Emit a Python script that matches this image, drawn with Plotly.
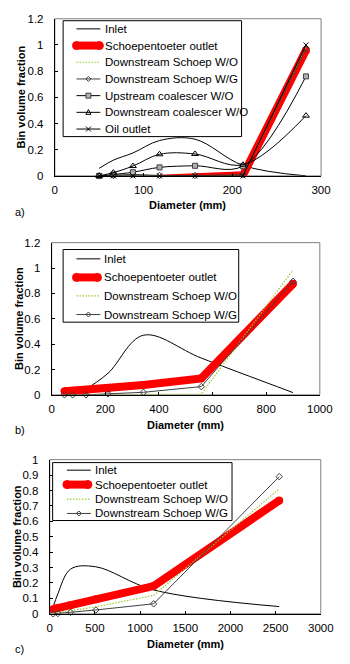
import plotly.graph_objects as go

W, H = 350, 664

# ---------------- data ----------------
# panel a)
a_x = [50, 66, 88, 118, 158, 212, 283]
a_inlet = [0.058, 0.12, 0.175, 0.27, 0.28, 0.08, 0.0]
a_schoep_out = [None, None, None, -0.022, -0.014, 0.005, 0.96]
a_down_wo = [0, 0, 0, 0, 0, 0.003, 0.98]
a_down_wg = [0, 0.003, 0.012, 0.003, 0.003, 0.01, 0.97]
a_up_coal = [0, 0.01, 0.028, 0.065, 0.077, 0.074, 0.76]
a_down_coal = [0, 0.025, 0.075, 0.165, 0.167, 0.085, 0.46]
a_oil = [0, 0, 0, 0, 0, 0, 1.0]

# panel b)
b_x = [48, 78, 128, 210, 342, 558, 900]
b_inlet = [0.01, 0.02, 0.05, 0.17, 0.47, 0.29, 0.018]
b_schoep_out = [0.028, 0.032, 0.038, 0.05, 0.078, 0.13, 0.875]
b_down_wo = [0, 0, 0, 0, 0, 0.005, 0.985]
b_down_wg = [0, 0, 0, 0.008, 0.02, 0.065, 0.895]

# panel c)
c_x = [38, 90, 230, 510, 1150, 2540]
c_inlet = [0.045, 0.13, 0.29, 0.305, 0.155, 0.047]
c_schoep_out = [0.03, 0.037, 0.056, 0.094, 0.18, 0.735]
c_down_wo = [0.005, 0.008, 0.02, 0.045, 0.12, 0.81]
c_down_wg = [0.0, 0.002, 0.01, 0.025, 0.065, 0.89]

# ---------------- styles ----------------
BLACK = '#000000'
GRAY = '#404040'
RED = '#ff0000'
GREEN = '#99c933'
FONT = 'Liberation Sans, Arial, sans-serif'
DOT = '1.5px,1.5px'

STY = {
    'Inlet': dict(mode='lines', line=dict(color=BLACK, width=1, shape='spline')),
    'Schoepentoeter outlet': dict(mode='lines+markers', line=dict(color=RED, width=8),
                                  marker=dict(symbol='circle', size=8, color=RED), cliponaxis=True),
    'Downstream Schoep W/O': dict(mode='lines', line=dict(color=GREEN, width=1.2, dash=DOT)),
    'Downstream Schoep W/G': dict(mode='lines+markers', line=dict(color=GRAY, width=1),
                                  marker=dict(symbol='diamond-open', size=5, color=GRAY, line=dict(width=1))),
    'Upstream coalescer W/O': dict(mode='lines+markers', line=dict(color=BLACK, width=1, shape='spline'),
                                   marker=dict(symbol='square', size=5, color='#b0b0b0',
                                               line=dict(color=GRAY, width=1))),
    'Downstream coalescer W/O': dict(mode='lines+markers', line=dict(color=BLACK, width=1, shape='spline'),
                                     marker=dict(symbol='triangle-up-open', size=6, color=BLACK, line=dict(width=1))),
    'Oil outlet': dict(mode='lines+markers', line=dict(color=BLACK, width=1),
                       marker=dict(symbol='x-thin-open', size=5, color=BLACK, line=dict(width=1, color=BLACK))),
}
LEG_MARK = {
    'Downstream Schoep W/G': ('diamond', GRAY, 'rgba(0,0,0,0)'),
    'Upstream coalescer W/O': ('square', GRAY, '#b0b0b0'),
    'Downstream coalescer W/O': ('triangle', BLACK, 'rgba(0,0,0,0)'),
    'Oil outlet': ('x', BLACK, 'rgba(0,0,0,0)'),
}


def px(x):
    return x / W


def py(y):
    return 1 - y / H


panels = [
    dict(label='a)', x=a_x,
         series=[('Inlet', a_inlet), ('Schoepentoeter outlet', a_schoep_out),
                 ('Downstream Schoep W/O', a_down_wo), ('Downstream Schoep W/G', a_down_wg),
                 ('Upstream coalescer W/O', a_up_coal), ('Downstream coalescer W/O', a_down_coal),
                 ('Oil outlet', a_oil)],
         xpx=(54.3, 333.3), ypx=(13, 173), xr=[0, 300], xdt=100, yr=[0, 1.2], ydt=0.2,
         ytitle_x=19, xtitle_y=203, lab_y=210,
         leg=dict(box=(63, 15, 250, 133), y0=23.3, dy=17.0, sx=(77, 102), rx=(73, 105), tx=105)),
    dict(label='b)', x=b_x,
         series=[('Inlet', b_inlet), ('Schoepentoeter outlet', b_schoep_out),
                 ('Downstream Schoep W/O', b_down_wo), ('Downstream Schoep W/G', b_down_wg)],
         xpx=(51, 332), ypx=(241, 396), xr=[0, 1000], xdt=200, yr=[0, 1.2], ydt=0.2,
         ytitle_x=17, xtitle_y=427, lab_y=432,
         leg=dict(box=(63, 248, 247, 322), y0=257.5, dy=18.9, sx=(77, 102), rx=(73, 103), tx=104)),
    dict(label='c)', x=c_x,
         series=[('Inlet', c_inlet), ('Schoepentoeter outlet', c_schoep_out),
                 ('Downstream Schoep W/O', c_down_wo), ('Downstream Schoep W/G', c_down_wg)],
         xpx=(49, 333), ypx=(462, 619), xr=[0, 3000], xdt=500, yr=[0, 1], ydt=0.1,
         ytitle_x=14, xtitle_y=650, lab_y=655,
         leg=dict(box=(52, 465, 240, 524), y0=472.7, dy=14.7, sx=(67, 92), rx=(63, 93), tx=94)),
]

fig = go.Figure()
shapes = []
annotations = []
layout_axes = {}


def marker_shape(kind, cx, cy, s, color, fill):
    d = dict(xref='paper', yref='paper', xsizemode='pixel', ysizemode='pixel',
             xanchor=px(cx), yanchor=py(cy), line=dict(color=color, width=1),
             fillcolor=fill, layer='above')
    if kind == 'square':
        d.update(type='rect', x0=-s, x1=s, y0=-s, y1=s)
    elif kind == 'circle':
        d.update(type='circle', x0=-s, x1=s, y0=-s, y1=s)
    elif kind == 'diamond':
        d.update(type='path', path=f'M0,{s} L{s},0 L0,{-s} L{-s},0 Z')
    elif kind == 'triangle':
        d.update(type='path', path=f'M{-s},{-s*0.8} L{s},{-s*0.8} L0,{s*1.1} Z')
    elif kind == 'x':
        d.update(type='path', path=f'M{-s},{-s} L{s},{s} M{-s},{s} L{s},{-s}')
    return d


for i, p in enumerate(panels, start=1):
    xa = 'x' if i == 1 else f'x{i}'
    ya = 'y' if i == 1 else f'y{i}'
    for name, vals in p['series']:
        st = dict(STY[name])
        clip = st.pop('cliponaxis', False)
        fig.add_trace(go.Scatter(x=p['x'], y=vals, name=name, showlegend=False,
                                 xaxis=xa, yaxis=ya, cliponaxis=clip, connectgaps=False, **st))
    x0, x1 = p['xpx']
    yt, yb = p['ypx']
    common = dict(showgrid=False, zeroline=False, showline=True, linecolor=BLACK, linewidth=1,
                  ticks='inside', ticklen=3, tickcolor=BLACK, tickwidth=1,
                  tickfont=dict(family=FONT, size=11.5, color=BLACK))
    layout_axes['xaxis' if i == 1 else f'xaxis{i}'] = dict(
        domain=[px(x0), px(x1)], anchor=ya, range=p['xr'], dtick=p['xdt'], tick0=0,
        ticklabelstandoff=3, **common)
    layout_axes['yaxis' if i == 1 else f'yaxis{i}'] = dict(
        domain=[py(yb), py(yt)], anchor=xa, range=p['yr'], dtick=p['ydt'], tick0=0,
        ticklabelstandoff=8, **common)
    # plot-area border
    shapes.append(dict(type='rect', xref='paper', yref='paper', x0=px(x0), x1=px(x1),
                       y0=py(yb), y1=py(yt), line=dict(color='#808080', width=1), layer='below'))
    # axis titles and panel label
    annotations.append(dict(text='<b>Bin volume fraction</b>', x=px(p['ytitle_x']), y=py((yt + yb) / 2),
                            xref='paper', yref='paper', textangle=-90, showarrow=False,
                            xanchor='center', yanchor='middle',
                            font=dict(family=FONT, size=11, color=BLACK)))
    annotations.append(dict(text='<b>Diameter (mm)</b>', x=px((x0 + x1) / 2), y=py(p['xtitle_y']),
                            xref='paper', yref='paper', showarrow=False,
                            xanchor='center', yanchor='middle',
                            font=dict(family=FONT, size=11, color=BLACK)))
    annotations.append(dict(text=p['label'], x=px(11), y=py(p['lab_y']),
                            xref='paper', yref='paper', showarrow=False,
                            xanchor='left', yanchor='middle',
                            font=dict(family=FONT, size=11, color=BLACK)))
    # legend (drawn manually to match the compact Excel legend)
    lg = p['leg']
    bx0, by0, bx1, by1 = lg['box']
    shapes.append(dict(type='rect', xref='paper', yref='paper', x0=px(bx0), x1=px(bx1),
                       y0=py(by1), y1=py(by0), line=dict(color=BLACK, width=1),
                       fillcolor='white', layer='above'))
    for k, (name, _) in enumerate(p['series']):
        yc = lg['y0'] + k * lg['dy']
        sx0, sx1 = lg['sx']
        if name == 'Schoepentoeter outlet':
            rx0, rx1 = lg['rx']
            shapes.append(dict(type='line', xref='paper', yref='paper', x0=px(rx0 + 4), x1=px(rx1 - 4),
                               y0=py(yc), y1=py(yc), line=dict(color=RED, width=8), layer='above'))
            for cx in (rx0 + 4, rx1 - 4):
                shapes.append(marker_shape('circle', cx, yc, 4, RED, RED))
        else:
            st = STY[name]
            shapes.append(dict(type='line', xref='paper', yref='paper', x0=px(sx0), x1=px(sx1),
                               y0=py(yc), y1=py(yc),
                               line=dict(color=st['line']['color'], width=st['line']['width'],
                                         dash=st['line'].get('dash', 'solid')), layer='above'))
            if name in LEG_MARK:
                kind, col, fill = LEG_MARK[name]
                shapes.append(marker_shape(kind, (sx0 + sx1) / 2, yc, 2.5, col, fill))
        annotations.append(dict(text=name, x=px(lg['tx']), y=py(yc), xref='paper', yref='paper',
                                showarrow=False, xanchor='left', yanchor='middle',
                                font=dict(family=FONT, size=11.5, color=BLACK)))

fig.update_layout(width=W, height=H, margin=dict(l=0, r=0, t=0, b=0),
                  paper_bgcolor='white', plot_bgcolor='white', showlegend=False,
                  hovermode=False,
                  shapes=shapes, annotations=annotations, **layout_axes)

fig.write_html('out.html', config={'displayModeBar': False, 'staticPlot': True},
               post_script="document.body.style.margin='0px';document.body.style.padding='0px';")
